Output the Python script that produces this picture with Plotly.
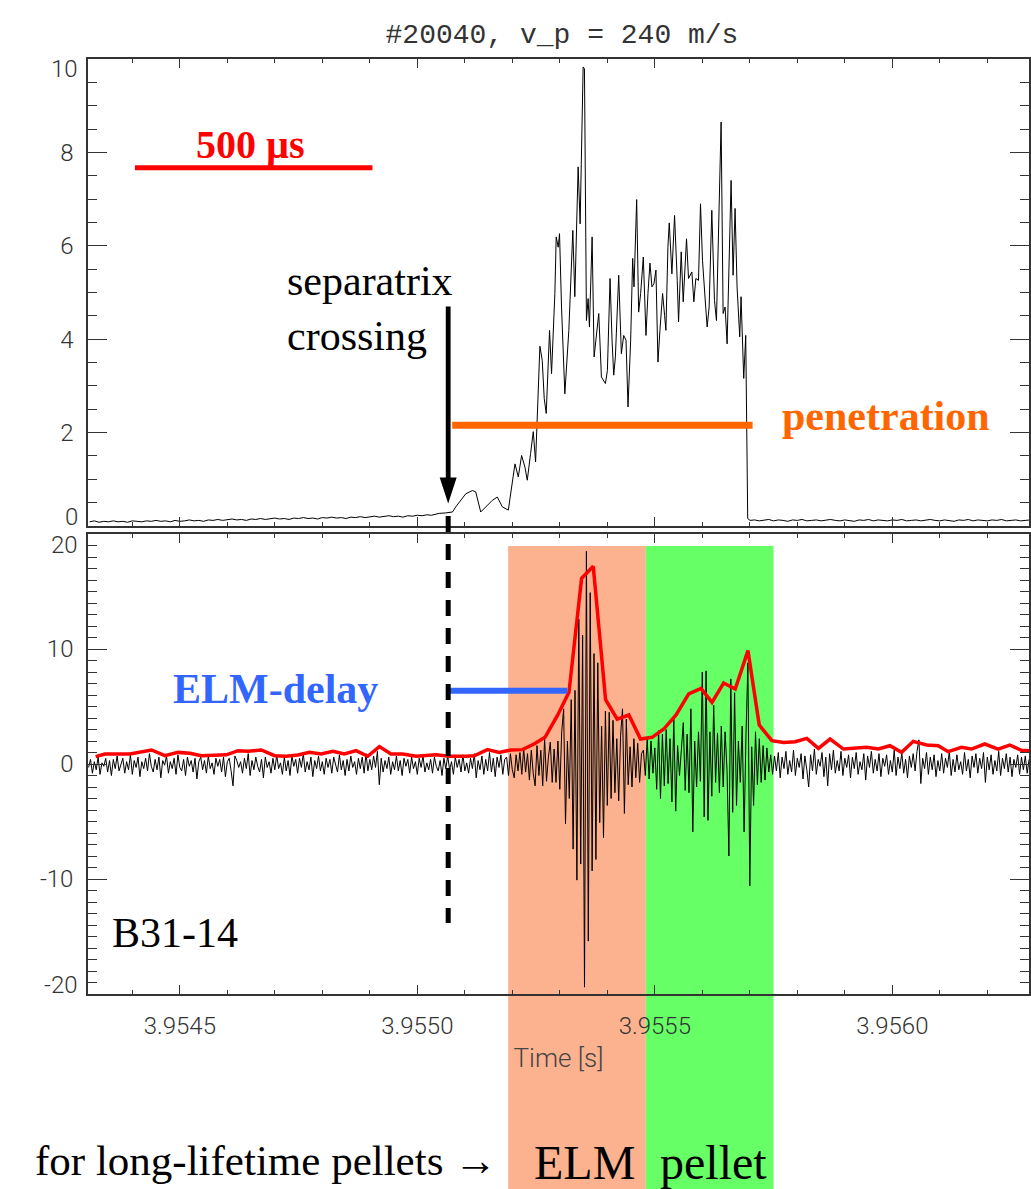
import numpy as np
import plotly.graph_objects as go

# ------------------------------------------------------------------ data
# top panel: pellet ablation monitor signal (a.u.)
TOP_PRE_T0, TOP_PRE_DT = 3.95431, 1e-5
top_pre_v = [0.09, 0.11, 0.08, 0.10, 0.09, 0.11, 0.09, 0.10, 0.08, 0.11,
             0.10, 0.09, 0.11, 0.10, 0.12, 0.10, 0.11, 0.09, 0.12, 0.10,
             0.11, 0.13, 0.11, 0.12, 0.10, 0.13, 0.12, 0.14, 0.12, 0.13,
             0.15, 0.13, 0.14, 0.12, 0.15, 0.14, 0.16, 0.14, 0.15, 0.17,
             0.15, 0.16, 0.14, 0.17, 0.16, 0.18, 0.16, 0.17, 0.15, 0.18,
             0.17, 0.19, 0.17, 0.18, 0.16, 0.19, 0.18, 0.20, 0.18, 0.19,
             0.21, 0.19, 0.20, 0.22, 0.20, 0.21, 0.19, 0.22, 0.21, 0.23,
             0.22, 0.24, 0.23, 0.25]

top_t = [3.9550460, 3.9550600, 3.9550740, 3.9550810, 3.9550880, 3.9551020, 3.9551160,
         3.9551230, 3.9551335, 3.9551440, 3.9551580, 3.9551685, 3.9551790, 3.9551916,
         3.9551965, 3.9552056, 3.9552126, 3.9552196, 3.9552266, 3.9552315, 3.9552385,
         3.9552441, 3.9552490, 3.9552532, 3.9552581, 3.9552630, 3.9552672, 3.9552714,
         3.9552784, 3.9552826, 3.9552896, 3.9552924, 3.9552966, 3.9552994, 3.9553036,
         3.9553106, 3.9553190, 3.9553274, 3.9553316, 3.9553386, 3.9553428, 3.9553491,
         3.9553519, 3.9553561, 3.9553596, 3.9553624, 3.9553680, 3.9553722, 3.9553750,
         3.9553820, 3.9553876, 3.9553960, 3.9554002, 3.9554058, 3.9554100, 3.9554135,
         3.9554170, 3.9554240, 3.9554296, 3.9554345, 3.9554394, 3.9554436, 3.9554492,
         3.9554534, 3.9554562, 3.9554618, 3.9554660, 3.9554702, 3.9554758, 3.9554814,
         3.9554856, 3.9554898, 3.9554940, 3.9554982, 3.9555024, 3.9555066, 3.9555108,
         3.9555164, 3.9555206, 3.9555234, 3.9555276, 3.9555304, 3.9555360, 3.9555416,
         3.9555472, 3.9555500, 3.9555556, 3.9555598, 3.9555668, 3.9555710, 3.9555780,
         3.9555822, 3.9555864, 3.9555920, 3.9555962, 3.9556004, 3.9556074, 3.9556102,
         3.9556144, 3.9556200, 3.9556256, 3.9556298, 3.9556354, 3.9556396, 3.9556438,
         3.9556480, 3.9556522, 3.9556564, 3.9556606, 3.9556648, 3.9556690, 3.9556732,
         3.9556788, 3.9556816, 3.9556872, 3.9556914, 3.9556956, 3.9557005]
top_v = [0.27, 0.28, 0.30, 0.41, 0.51, 0.69, 0.76,
         0.73, 0.30, 0.41, 0.55, 0.62, 0.41, 0.34,
         0.69, 1.33, 1.05, 1.51, 1.26, 0.98, 1.55,
         2.02, 1.37, 2.55, 3.85, 3.55, 2.73, 2.41,
         4.19, 3.26, 4.98, 6.19, 5.97, 6.26, 4.69,
         2.83, 4.19, 6.33, 4.91, 7.69, 6.47, 9.83,
         9.79, 4.40, 4.87, 4.26, 6.19, 3.62, 3.90,
         4.55, 3.19, 3.05, 3.33, 5.30, 3.98, 3.23,
         3.62, 5.37, 3.69, 4.08, 3.98, 2.55, 3.98,
         5.73, 5.12, 6.99, 4.58, 4.98, 5.76, 4.08,
         4.98, 5.63, 5.12, 5.19, 5.48, 3.51, 4.19,
         4.98, 4.51, 4.19, 5.97, 6.49, 5.40, 6.65,
         5.26, 4.37, 5.87, 4.80, 6.15, 5.30, 5.44,
         4.80, 5.30, 5.26, 6.90, 5.69, 4.65, 4.26,
         4.69, 6.76, 4.83, 4.40, 6.83, 8.65, 4.55,
         4.69, 3.90, 5.55, 7.40, 5.37, 6.80, 5.12,
         4.05, 4.91, 3.16, 4.08, 0.16, 0.12]

TOP_POST_T0, TOP_POST_DT = 3.95571, 1e-5
top_post_v = [0.13, 0.11, 0.12, 0.14, 0.11, 0.13, 0.12, 0.10, 0.13, 0.12,
              0.14, 0.11, 0.12, 0.13, 0.11, 0.12, 0.14, 0.12, 0.11, 0.13,
              0.12, 0.10, 0.13, 0.12, 0.14, 0.11, 0.13, 0.12, 0.11, 0.13,
              0.12, 0.14, 0.11, 0.12, 0.13, 0.11, 0.12, 0.14, 0.12, 0.11,
              0.13, 0.12, 0.10, 0.13, 0.12, 0.14, 0.11, 0.13, 0.12, 0.11,
              0.13, 0.12, 0.14, 0.11, 0.12, 0.13, 0.11, 0.12, 0.13]

# bottom panel: magnetic pick-up coil B31-14 (sampled every 4 us)
MIR_T0, MIR_DT = 3.954308, 4e-6
mirnov_v = [
    -0.3, 0.4, -0.8, 0.2, -0.5, 0.6, -0.9, 0.1, -0.2, 0.5,
    -0.7, 0.3, -1.0, 0.4, -0.4, 0.7, -0.6, 0.0, 0.5, -0.8,
    0.2, -0.5, 0.8, -0.9, 0.3, -0.3, 0.6, -1.1, 0.2, -0.4,
    0.5, -0.6, 0.9, -0.2, -0.7, 0.4, -0.5, 0.6, -1.2, 0.3,
    -0.1, 0.7, -0.8, 0.2, -0.4, 0.5, -0.9, 0.8, -0.3, -0.6,
    0.4, -1.0, 0.6, -0.2, 0.3, -0.7, 0.5, -1.3, 0.2, 0.6,
    -0.5, 0.3, -0.8, 0.7, -0.4, 0.1, -0.9, 0.5, -0.2, 0.4,
    -0.7, 0.6, -1.1, 0.2, 0.5, -0.6, -1.9, 0.7, 0.3, -0.3,
    0.2, -0.8, 0.5, -0.4, 0.9, -1.0, 0.3, -0.5, 0.6, -0.2,
    -0.7, 0.4, -1.2, 0.6, -0.3, 0.2, -0.8, 0.5, -0.5, 0.8,
    -0.4, 0.1, -0.9, 0.6, -0.6, 0.3, -1.0, 0.7, -0.2, 0.4,
    -0.8, 0.5, -0.3, 0.9, -0.7, 0.2, -0.5, 0.6, -1.1, 0.3,
    -0.4, 0.7, -0.6, 0.2, -0.9, 0.5, -0.3, 0.4, -0.8, 0.6,
    -0.2, -0.7, 0.8, -0.5, 0.3, -1.0, 0.4, -0.6, 0.7, -0.3,
    0.2, -0.9, 0.5, -0.4, 0.6, -0.8, 0.9, -0.6, 0.4, -0.5,
    0.7, -0.3, 1.1, -1.8, 0.5, -0.7, 0.3, -0.4, 0.6, -0.9,
    0.2, -0.5, 0.7, -0.6, 0.3, -1.0, 0.5, -0.2, 0.4, -0.8,
    0.6, -0.4, 0.2, -0.9, 0.5, -0.3, 0.7, -0.7, 0.1, -0.5,
    0.4, -0.8, 0.6, -0.2, -0.6, 0.3, -1.0, 0.5, -0.4, 0.7,
    -0.5, 0.2, -0.9, 0.6, -0.3, 0.4, -0.7, 0.8, -0.6, 0.1,
    -0.8, 0.5, -0.4, 0.9, -1.2, 0.3, -0.5, 0.7, -0.9, 0.4,
    -0.6, 1.0, -0.7, 0.5, -1.1, 0.6, -0.3, 0.8, -0.9, 0.4,
    0.6, -1.0, 0.9, -0.5, -1.2, 0.8, -0.6, 1.0, -0.9, 1.3,
    -0.7, 0.9, -1.4, 1.2, -0.8, -1.9, 1.6, -1.0, 1.2, -1.9,
    2.2, -1.5, 0.6, 1.9, -1.6, 1.3, -1.6, 2.0, -2.2, 2.8,
    4.8, -5.2, 2.0, -3.0, 5.6, -7.4, 6.4, -10.1, 12.6, -8.7,
    11.2, -19.4, 18.5, -15.4, 14.9, -9.3, 9.6, -8.3, 8.8, -5.1,
    3.3, -6.4, 4.6, -3.6, 4.5, -3.0, 3.8, -2.5, 2.2, -3.2,
    2.5, 4.8, -4.3, 3.9, -1.8, 1.5, -2.0, 2.2, -1.2, 1.8,
    -1.6, 0.9, 1.2, -1.0, 2.2, -1.3, 2.0, -0.8, 1.4, -2.2,
    2.9, -3.0, 2.6, -1.9, 3.0, -1.7, 2.2, -3.3, 3.9, -4.1,
    1.6, -1.0, 1.3, 3.6, -2.3, 2.6, -2.5, 4.8, -5.9, 2.0,
    -2.0, 2.8, -1.5, 8.0, -4.6, 8.1, -4.9, 2.8, -2.8, 5.1,
    -1.6, 2.7, -2.5, 3.3, -2.0, 2.8, -0.5, -8.0, 7.4, -4.2,
    6.2, -3.6, 2.0, -1.6, 3.3, -5.9, 2.6, 8.8, -10.6, 1.5,
    -3.6, 2.8, -1.8, 2.2, -1.6, 1.6, -1.4, 1.4, -0.7, 0.8,
    -0.9, 0.7, -0.6, 1.0, -1.2, 0.6, -0.4, 1.1, -0.9, 0.3,
    -0.7, 1.2, -1.0, 0.5, -0.3, 0.9, -1.3, 0.7, -0.5, -2.0,
    0.8, -0.6, 1.3, -0.9, 0.4, -0.2, 1.0, -1.1, 0.6, -1.9,
    0.9, -0.5, 1.2, -0.8, 0.3, -0.6, 1.1, -1.0, 0.5, -0.3,
    0.8, -1.2, 0.6, -0.4, 1.0, -0.9, 0.2, -0.5, 0.9, -1.4,
    0.7, -0.3, 1.1, -0.8, 0.4, -0.6, 0.9, -1.1, 0.5, -0.2,
    0.8, -0.9, 0.3, -0.7, 1.2, -1.0, 0.6, -0.4, 1.0, -0.8,
    0.4, -1.2, 0.7, -0.3, 0.9, -0.6, 1.1, 2.1, -1.7, 0.5,
    -0.4, 1.0, -0.9, 0.6, -0.5, 0.8, -1.1, 0.3, -0.6, 0.9,
    -0.8, 0.5, -0.3, 1.1, -1.0, 0.4, -0.7, 0.8, -0.5, 0.2,
    -0.9, 1.0, -0.6, 0.4, -1.2, 0.7, -0.3, 0.9, -0.8, 0.5,
    -0.4, 1.0, -1.6, 0.6, -0.5, 0.8, -0.9, 0.3, -0.6, 1.1,
    -1.0, 0.5, -0.4, 0.9, -0.7, 0.6, -1.1, 0.4, -0.3, 0.8,
    -0.9, 0.6, -0.5, 0.7, -0.8, 0.4]

# envelope (red)
env_t = [3.9543229, 3.9543424, 3.9543670, 3.9543950, 3.9544405, 3.9544685, 3.9544964,
         3.9545210, 3.9545455, 3.9545981, 3.9546225, 3.9546435, 3.9546716, 3.9546996,
         3.9547241, 3.9547485, 3.9547731, 3.9547977, 3.9548221, 3.9548466, 3.9548712,
         3.9548956, 3.9549202, 3.9549447, 3.9549691, 3.9549973, 3.9550393, 3.9550672,
         3.9551023, 3.9551197, 3.9551477, 3.9551723, 3.9551968, 3.9552213, 3.9552458,
         3.9552689, 3.9552948, 3.9553193, 3.9553459, 3.9553704, 3.9553964, 3.9554209,
         3.9554454, 3.9554699, 3.9554944, 3.9555189, 3.9555448, 3.9555714, 3.9555973,
         3.9556204, 3.9556449, 3.9556694, 3.9556961, 3.9557199, 3.9557465, 3.9557710,
         3.9557955, 3.9558200, 3.9558445, 3.9558690, 3.9558971, 3.9559216, 3.9559461,
         3.9559706, 3.9559951, 3.9560196, 3.9560441, 3.9560722, 3.9560967, 3.9561177,
         3.9561457, 3.9561667, 3.9561947, 3.9562227, 3.9562472, 3.9562717, 3.9562878]
env_v = [0.64, 0.87, 0.87, 0.87, 1.22, 0.72, 1.01,
         0.93, 0.72, 0.80, 1.16, 1.10, 1.22, 0.72,
         0.67, 0.78, 1.01, 0.87, 1.10, 0.87, 1.16,
         0.67, 1.51, 0.87, 0.87, 0.67, 0.80, 0.67,
         0.67, 0.72, 1.25, 1.01, 1.22, 1.25, 1.74,
         2.32, 4.20, 6.23, 16.14, 17.19, 5.59, 3.91,
         4.26, 2.17, 2.32, 3.04, 4.26, 6.09, 6.58,
         5.36, 7.04, 6.52, 9.86, 3.39, 2.03, 1.88,
         1.94, 2.23, 1.36, 2.17, 1.30, 1.36, 1.45,
         1.30, 1.59, 1.01, 1.97, 1.65, 1.59, 1.07,
         1.45, 1.30, 1.74, 1.30, 1.65, 1.19, 1.16]

# event markers
SCALE_BAR_T = [3.9544055, 3.9549055]      # 500 us
SCALE_BAR_Y = 7.67
SEPARATRIX_T = 3.955065
PENETRATION_T = [3.9550735, 3.9557059]
PENETRATION_Y = 2.16
ELM_DELAY_T = [3.955067, 3.9553158]
ELM_DELAY_Y = 6.37
ELM_SPAN = [3.9551912, 3.9554811]
PELLET_SPAN = [3.9554811, 3.9557500]

X_RANGE = [3.9543067, 3.9562878]
x_tick_vals = [3.9545, 3.9550, 3.9555, 3.9560]
x_tick_text = ["3.9545", "3.9550", "3.9555", "3.9560"]
top_y_ticks = [0, 2, 4, 6, 8, 10]
bot_y_ticks = [-20, -10, 0, 10, 20]

# ------------------------------------------------------------------ build
top_time = np.concatenate([TOP_PRE_T0 + TOP_PRE_DT * np.arange(len(top_pre_v)),
                           np.array(top_t),
                           TOP_POST_T0 + TOP_POST_DT * np.arange(len(top_post_v))])
top_vals = np.concatenate([top_pre_v, top_v, top_post_v])
mir_time = MIR_T0 + MIR_DT * np.arange(len(mirnov_v))

W, H = 1031, 1189
ML, MR, MT, MB = 88, 0, 59, 195
PW, PH = W - ML - MR, H - MT - MB


def px_x(x):
    return (x - ML) / PW


def px_y(y):
    return (H - MB - y) / PH


SERIF = "Liberation Serif"
SANS = "Roboto"
AX = "#333333"
tickfont = dict(family=SANS, size=24, color="#333333", weight=300)

fig = go.Figure()
fig.add_trace(go.Scatter(x=top_time, y=top_vals, mode="lines",
                         line=dict(color="black", width=1), xaxis="x", yaxis="y"))
fig.add_trace(go.Scatter(x=SCALE_BAR_T, y=[SCALE_BAR_Y] * 2, mode="lines",
                         line=dict(color="#ff0000", width=5), xaxis="x", yaxis="y"))
fig.add_trace(go.Scatter(x=PENETRATION_T, y=[PENETRATION_Y] * 2, mode="lines",
                         line=dict(color="#ff6600", width=7), xaxis="x", yaxis="y"))
fig.add_trace(go.Scatter(x=mir_time, y=mirnov_v, mode="lines",
                         line=dict(color="black", width=1), xaxis="x2", yaxis="y2"))
fig.add_trace(go.Scatter(x=env_t, y=env_v, mode="lines",
                         line=dict(color="#ff0000", width=3.5), xaxis="x2", yaxis="y2"))
fig.add_trace(go.Scatter(x=ELM_DELAY_T, y=[ELM_DELAY_Y] * 2, mode="lines",
                         line=dict(color="#3366ff", width=6), xaxis="x2", yaxis="y2"))

common_x = dict(range=X_RANGE, tickvals=x_tick_vals, ticktext=x_tick_text,
                ticks="inside", ticklen=9, tickwidth=1.2, tickcolor=AX,
                minor=dict(dtick=0.0001, tick0=3.9545, ticks="inside", ticklen=4.5,
                           tickwidth=1.2, tickcolor=AX),
                showline=True, linecolor=AX, linewidth=1.5, mirror="allticks",
                showgrid=False, zeroline=False, tickfont=tickfont)
common_y = dict(ticks="inside", ticklen=19, tickwidth=1.2, tickcolor=AX,
                showline=True, linecolor=AX, linewidth=1.5, mirror="allticks",
                showgrid=False, zeroline=False, tickfont=tickfont,
                ticklabelstandoff=8)

fig.update_layout(
    width=W, height=H, autosize=False,
    margin=dict(l=ML, r=MR, t=MT, b=MB, pad=0),
    paper_bgcolor="white", plot_bgcolor="rgba(0,0,0,0)",
    showlegend=False,
    title=dict(text="#20040, v_p = 240 m/s", x=px_x(563), xref="paper", xanchor="center",
               y=(H - 33) / H, yanchor="middle",
               font=dict(family="Liberation Mono", size=28, color="#333333")),
    xaxis=dict(domain=[0, 1], anchor="y", showticklabels=False, **common_x),
    yaxis=dict(domain=[px_y(526), 1], anchor="x", range=[0, 10],
               tickvals=top_y_ticks, ticktext=["", "2", "4", "6", "8", ""],
               minor=dict(dtick=0.5, ticks="inside", ticklen=9.5, tickwidth=1.2, tickcolor=AX),
               **common_y),
    xaxis2=dict(domain=[0, 1], anchor="y2", showticklabels=True, ticklabelstandoff=9,
                title=dict(text="Time [s]", standoff=10,
                           font=dict(family=SANS, size=26, color="#444444", weight=300)),
                **common_x),
    yaxis2=dict(domain=[0, px_y(534)], anchor="x2", range=[-20, 20],
                tickvals=bot_y_ticks, ticktext=["", "-10", "0", "10", ""],
                minor=dict(dtick=1, ticks="inside", ticklen=9.5, tickwidth=1.2, tickcolor=AX),
                **common_y),
)

# shaded ELM / pellet intervals (extend below the axis to the bottom of the page)
span_top = (H - MB - 546) / (H - MB - 534)
for (t0, t1), col in [(ELM_SPAN, "#fdb28f"), (PELLET_SPAN, "#66ff66")]:
    fig.add_shape(type="rect", xref="x2", yref="y2 domain", x0=t0, x1=t1,
                  y0=-0.5, y1=span_top, fillcolor=col, line=dict(width=0), layer="below")

# dashed separatrix line
fig.add_shape(type="line", xref="x2", yref="paper", x0=SEPARATRIX_T, x1=SEPARATRIX_T,
              y0=px_y(516), y1=px_y(923), line=dict(color="black", width=5, dash="16px,12px"))

# separatrix arrow (top panel)
fig.add_shape(type="path", xref="x", yref="y", xsizemode="pixel", ysizemode="pixel",
              xanchor=SEPARATRIX_T, yanchor=0.48,
              path="M -2.4,197 L 2.4,197 L 2.4,26 L 8.5,26 L 0,0 L -8.5,26 L -2.4,26 Z",
              fillcolor="black", line=dict(width=0))

ann = []


def add_text(text, x, y, size, color="black", bold=False, xanchor="left", align="left"):
    t = f"<b>{text}</b>" if bold else text
    ann.append(dict(text=t, x=px_x(x), y=px_y(y), xref="paper", yref="paper",
                    xanchor=xanchor, yanchor="middle", align=align, showarrow=False,
                    font=dict(family=SERIF, size=size, color=color)))


add_text("500 µs", 251, 144, 40, "#ff0000", bold=True, xanchor="center")
add_text("separatrix<br>crossing", 285, 308, 42)
add_text("penetration", 781, 416, 42, "#ff6600", bold=True)
add_text("ELM-delay", 171, 689, 42, "#3366ff", bold=True)
add_text("B31-14", 110, 933, 42)
add_text("for long-lifetime pellets →", 33, 1160, 43)
add_text("ELM", 586, 1162, 48, xanchor="center")
add_text("pellet", 715, 1162, 48, xanchor="center")

# end tick labels nudged inside the frame (IDL style)
for val, yr, shift in [(10, "y", -10), (0, "y", 9), (20, "y2", -11), (-20, "y2", 9)]:
    ann.append(dict(text=str(val), x=0, xref="paper", y=val, yref=yr, xanchor="right",
                    yanchor="middle", xshift=-8, yshift=shift, showarrow=False,
                    font=tickfont))

fig.update_layout(annotations=ann)
fig.write_html("out.html")
